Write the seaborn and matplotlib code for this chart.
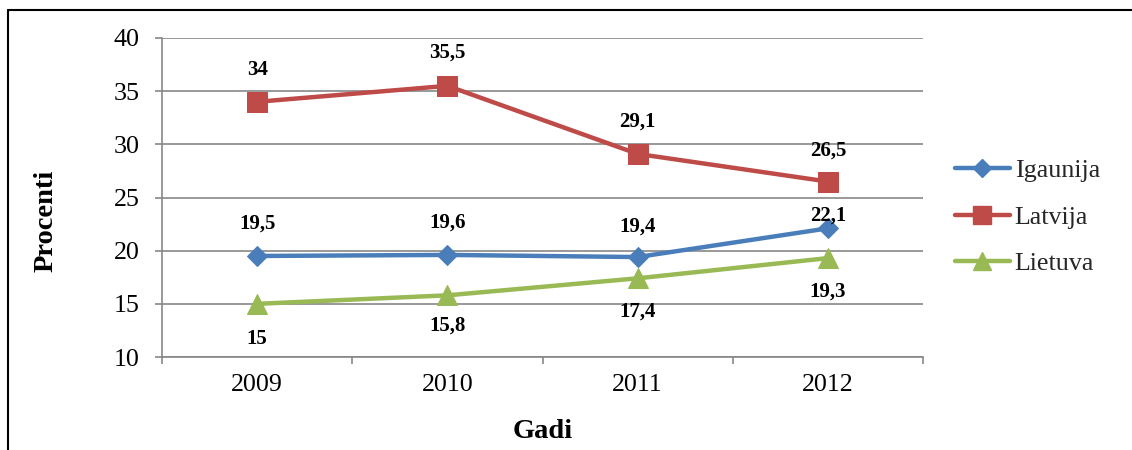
import matplotlib
matplotlib.use("Agg")
import matplotlib.pyplot as plt
from matplotlib.lines import Line2D
import seaborn as sns
import pandas as pd

# ---- data ----
years = ["2009", "2010", "2011", "2012"]
igaunija = [19.5, 19.6, 19.4, 22.1]
latvija = [34.0, 35.5, 29.1, 26.5]
lietuva = [15.0, 15.8, 17.4, 19.3]
series_names = ["Igaunija", "Latvija", "Lietuva"]
y_ticks = [10, 15, 20, 25, 30, 35, 40]

sns.set_theme(style="white")
plt.rcParams["font.family"] = ["Liberation Serif", "DejaVu Serif"]

colors = {"Igaunija": "#4A7EBB", "Latvija": "#BE4B48", "Lietuva": "#98B954"}
markers = {"Igaunija": "D", "Latvija": "s", "Lietuva": "^"}
msizes = {"Igaunija": 10, "Latvija": 14, "Lietuva": 14}
# label offsets (points) above (+) / below (-) each point
label_off = {"Igaunija": [23, 23, 22, 9], "Latvija": [23, 24, 23, 22],
             "Lietuva": [-25, -22, -24, -24]}

values = {"Igaunija": igaunija, "Latvija": latvija, "Lietuva": lietuva}
rows = []
for name in series_names:
    for i, (yr, v) in enumerate(zip(years, values[name])):
        rows.append({"pos": i, "year": yr, "series": name, "value": v})
df = pd.DataFrame(rows)

fig = plt.figure(figsize=(11.32, 4.5), dpi=100)
ax = fig.add_axes([162 / 1132, 1 - 357 / 450, (923 - 162) / 1132, (357 - 38) / 450])

grid_c = "#878787"
for name in series_names:
    sub = df[df["series"] == name]
    sns.lineplot(data=sub, x="pos", y="value", ax=ax, color=colors[name],
                 marker=markers[name], markersize=msizes[name], linewidth=3.2,
                 markeredgecolor=colors[name], label=name, zorder=3)
    for _, r in sub.iterrows():
        off = label_off[name][int(r["pos"])]
        txt = f"{r['value']:g}".replace(".", ",")
        ax.annotate(txt, (r["pos"], r["value"]), xytext=(0, off),
                    textcoords="offset points", ha="center", va="center",
                    fontsize=15, fontweight="bold", color="black", zorder=4)

ax.set_xlim(-0.5, 3.5)
ax.set_ylim(10, 40)
ax.set_yticks(y_ticks)
ax.set_yticklabels([str(t) for t in y_ticks])
ax.set_xticks(range(len(years)))
ax.set_xticklabels(years)
ax.set_xticks([-0.5, 0.5, 1.5, 2.5, 3.5], minor=True)

ax.grid(axis="y", color=grid_c, linewidth=1.2, zorder=0)
ax.grid(axis="x", visible=False)
for s in ["top", "right"]:
    ax.spines[s].set_visible(False)
for s in ["left", "bottom"]:
    ax.spines[s].set_color(grid_c)
    ax.spines[s].set_linewidth(1.2)

ax.tick_params(axis="y", which="major", direction="out", length=5, width=1.2,
               color=grid_c, pad=11, labelsize=18.7, labelcolor="black", left=True)
ax.tick_params(axis="x", which="major", length=0, pad=12, labelsize=18.7,
               labelcolor="black", bottom=True)
ax.tick_params(axis="x", which="minor", direction="out", length=5, width=1.2,
               color=grid_c, bottom=True)

ax.set_xlabel("Gadi", fontsize=20.5, fontweight="bold", color="black")
ax.xaxis.label.set_va("center")
ax.xaxis.set_label_coords(0.5, (357 - 431) / 319)
ax.set_ylabel("Procenti", fontsize=20.5, fontweight="bold", color="black")
ax.yaxis.label.set_va("center")
ax.yaxis.set_label_coords((46 - 162) / 761, (357 - 221) / 319)

handles = [Line2D([], [], color=colors[n], marker=markers[n], markersize=msizes[n] * 0.9,
                  linewidth=3.2, markeredgecolor=colors[n]) for n in series_names]
ax.legend(handles, series_names, loc="center left",
          bbox_to_anchor=(955 / 1132, 1 - 217 / 450), bbox_transform=fig.transFigure,
          frameon=False, fontsize=18.7, handlelength=2.1, handletextpad=0.2,
          labelspacing=0.9, borderpad=0, borderaxespad=0)

# outer border (left and top visible in reference)
fig.add_artist(Line2D([8 / 1132, 8 / 1132], [0, 1 - 10 / 450], color="black",
                      linewidth=1.5, transform=fig.transFigure))
fig.add_artist(Line2D([8 / 1132, 1], [1 - 10 / 450, 1 - 10 / 450], color="black",
                      linewidth=1.5, transform=fig.transFigure))

fig.savefig("out.png", dpi=100, facecolor="white")
